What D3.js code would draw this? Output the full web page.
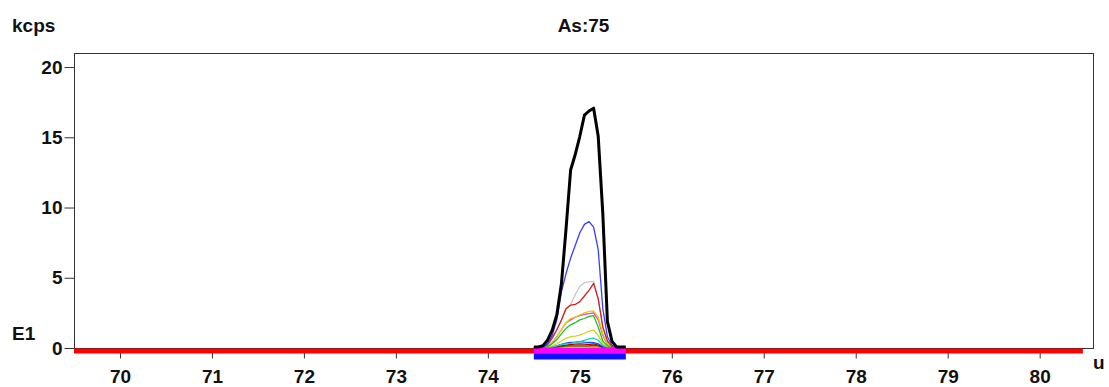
<!DOCTYPE html>
<html>
<head>
  <meta charset="utf-8">
  <script src="https://d3js.org/d3.v7.min.js"></script>
  <style>
    body { margin: 0; background: #fff; }
    text { font-family: "Liberation Sans", Arial, sans-serif; font-weight: bold; fill: #111; }
    .axis line { stroke: #333; }
    .axis path { display: none; }
  </style>
</head>
<body>
  <svg id="chart" width="1109" height="387"></svg>
  <script>
    // massas (u) onde o pico foi amostrado
    const masses = [74.50, 74.55, 74.60, 74.65, 74.70, 74.75, 74.80, 74.85, 74.90, 74.95, 75.00,
                    75.05, 75.10, 75.15, 75.20, 75.25, 75.30, 75.35, 75.40, 75.45, 75.50];

    // intensidades em kcps, uma lista por traço
    const sumTrace     = [0, 0, 0.1, 0.5, 1.2, 2.3, 4.5, 8.4, 12.6, 13.7, 15.0, 16.5, 16.8, 17.0, 15.0, 9.5, 1.8, 0.4, 0, 0, 0];
    const blueTrace    = [0, 0, 0.05, 0.3, 0.9, 2.0, 4.0, 5.3, 6.4, 7.3, 8.2, 8.8, 9.0, 8.6, 7.0, 2.8, 0.8, 0.2, 0, 0, 0];
    const grayTrace    = [0, 0, 0.05, 0.25, 0.7, 1.3, 2.0, 2.8, 3.1, 3.8, 4.4, 4.65, 4.7, 4.75, 3.5, 1.5, 0.5, 0.1, 0, 0, 0];
    const redTrace     = [0, 0, 0.05, 0.25, 0.7, 1.3, 2.0, 2.8, 3.05, 3.1, 3.3, 3.7, 4.1, 4.6, 3.5, 1.5, 0.5, 0.1, 0, 0, 0];
    const yellowTrace  = [0, 0, 0.03, 0.15, 0.4, 0.8, 1.3, 1.8, 2.1, 2.2, 2.35, 2.5, 2.6, 2.65, 2.2, 1.0, 0.3, 0.05, 0, 0, 0];
    const magentaTrace = [0, 0, 0.03, 0.15, 0.4, 0.8, 1.3, 1.8, 2.0, 2.2, 2.3, 2.4, 2.45, 2.5, 2.0, 0.9, 0.25, 0.05, 0, 0, 0];
    const greenTrace   = [0, 0, 0.02, 0.1, 0.3, 0.6, 1.0, 1.4, 1.65, 1.8, 2.0, 2.1, 2.25, 2.3, 1.5, 0.5, 0.15, 0, 0, 0, 0];
    const yellow2Trace = [0, 0, 0.01, 0.05, 0.15, 0.3, 0.5, 0.7, 0.8, 0.85, 0.92, 1.05, 1.2, 1.28, 0.9, 0.3, 0.1, 0, 0, 0, 0];
    const cyanTrace    = [0, 0, 0, 0.02, 0.08, 0.15, 0.25, 0.3, 0.33, 0.4, 0.45, 0.55, 0.65, 0.7, 0.55, 0.2, 0.05, 0, 0, 0, 0];
    const blue2Trace   = [0, 0, 0, 0.02, 0.08, 0.15, 0.25, 0.35, 0.4, 0.42, 0.45, 0.42, 0.4, 0.38, 0.3, 0.1, 0.02, 0, 0, 0, 0];
    const darkredTrace = [0, 0, 0, 0.01, 0.05, 0.1, 0.15, 0.2, 0.25, 0.28, 0.3, 0.28, 0.25, 0.3, 0.2, 0.05, 0, 0, 0, 0, 0];
    const green2Trace  = [0, 0, 0, 0, 0.03, 0.06, 0.1, 0.15, 0.15, 0.15, 0.15, 0.15, 0.15, 0.18, 0.15, 0.05, 0, 0, 0, 0, 0];
    const orangeTrace  = [0, 0, 0, 0, 0.02, 0.05, 0.08, 0.1, 0.12, 0.12, 0.12, 0.12, 0.1, 0.1, 0.08, 0.02, 0, 0, 0, 0, 0];

    // rótulos
    const xTicks = [70, 71, 72, 73, 74, 75, 76, 77, 78, 79, 80];
    const yTicks = [0, 5, 10, 15, 20];
    const title = "As:75";

    // faixas na base: linha vermelha de massa e janela de integração
    const baselineRange = [69.5, 80.47];
    const windowRange = [74.5, 75.5];

    // traços finos (desenhados por baixo do traço soma)
    const traces = [
      { values: orangeTrace,  color: "#ff9020" },
      { values: green2Trace,  color: "#008000" },
      { values: darkredTrace, color: "#b00000" },
      { values: blue2Trace,   color: "#0050ff" },
      { values: cyanTrace,    color: "#20c8c8" },
      { values: yellow2Trace, color: "#d8d020" },
      { values: magentaTrace, color: "#e040e0" },
      { values: yellowTrace,  color: "#e0d000" },
      { values: greenTrace,   color: "#20c020" },
      { values: grayTrace,    color: "#c8c8c8" },
      { values: redTrace,     color: "#d02020" },
      { values: blueTrace,    color: "#3c3cff" }
    ];

    const svg = d3.select("#chart");
    const pLeft = 74, pRight = 1093, pTop = 53, pBottom = 348;

    const x = d3.scaleLinear().domain([69.5, 80.58]).range([pLeft, pRight]);
    const y = d3.scaleLinear().domain([0, 21]).range([pBottom, pTop]);

    // moldura do gráfico
    svg.append("rect")
      .attr("x", pLeft + 0.5).attr("y", pTop + 0.5)
      .attr("width", pRight - pLeft).attr("height", pBottom - pTop)
      .attr("fill", "none").attr("stroke", "#333").attr("stroke-width", 1);

    // eixo Y
    const yAxis = svg.append("g")
      .attr("class", "axis")
      .attr("transform", `translate(${pLeft + 0.5},0)`)
      .call(d3.axisLeft(y).tickValues(yTicks).tickSize(10).tickPadding(2));

    // eixo X
    const xAxis = svg.append("g")
      .attr("class", "axis")
      .attr("transform", `translate(0,${pBottom + 0.5})`)
      .call(d3.axisBottom(x).tickValues(xTicks).tickSize(10).tickPadding(11));

    yAxis.selectAll("text").style("font-size", "19px");
    xAxis.selectAll("text").style("font-size", "19px");

    const line = d3.line()
      .x((d, i) => x(masses[i]))
      .y(d => y(d));

    traces.forEach(t => {
      svg.append("path")
        .attr("d", line(t.values))
        .attr("fill", "none")
        .attr("stroke", t.color)
        .attr("stroke-width", 1.3)
        .attr("stroke-linejoin", "round");
    });

    // linha vermelha de base
    svg.append("line")
      .attr("x1", x(baselineRange[0])).attr("x2", x(baselineRange[1]))
      .attr("y1", pBottom + 3).attr("y2", pBottom + 3)
      .attr("stroke", "#ff0000").attr("stroke-width", 5);

    // janela de integração (magenta + azul)
    svg.append("rect")
      .attr("x", x(windowRange[0])).attr("width", x(windowRange[1]) - x(windowRange[0]))
      .attr("y", pBottom - 0.5).attr("height", 6)
      .attr("fill", "#ff00ff");
    svg.append("rect")
      .attr("x", x(windowRange[0])).attr("width", x(windowRange[1]) - x(windowRange[0]))
      .attr("y", pBottom + 5.5).attr("height", 6)
      .attr("fill", "#1010ff");

    // traço soma (preto, grosso)
    svg.append("path")
      .attr("d", line(sumTrace))
      .attr("fill", "none")
      .attr("stroke", "#000")
      .attr("stroke-width", 3)
      .attr("stroke-linejoin", "round")
      .attr("transform", "translate(0,-1)");

    // textos
    svg.append("text").attr("x", 12).attr("y", 32).attr("font-size", 19).text("kcps");
    svg.append("text").attr("x", 12).attr("y", 340).attr("font-size", 19).text("E1");
    svg.append("text").attr("x", (pLeft + pRight) / 2).attr("y", 32)
      .attr("text-anchor", "middle").attr("font-size", 19).text(title);
    svg.append("text").attr("x", 1093).attr("y", 369).attr("font-size", 19).text("u");
  </script>
</body>
</html>
